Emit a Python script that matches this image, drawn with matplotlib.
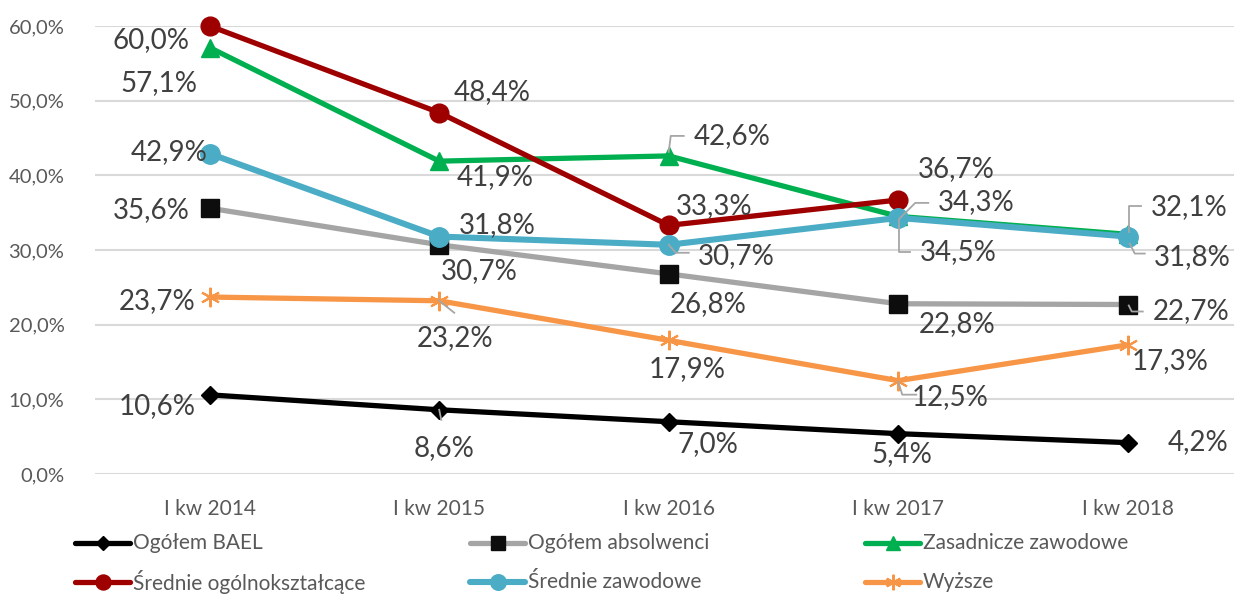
import numpy as np
import matplotlib.pyplot as plt
from matplotlib.lines import Line2D
from matplotlib.transforms import IdentityTransform

plt.rcParams['font.family'] = ['Lato', 'DejaVu Sans']

# --- data (percent) ---
categories = ["I kw 2014", "I kw 2015", "I kw 2016", "I kw 2017", "I kw 2018"]
bael = [10.6, 8.6, 7.0, 5.4, 4.2]
absolwenci = [35.6, 30.7, 26.8, 22.8, 22.7]
zasadnicze = [57.1, 41.9, 42.6, 34.5, 32.1]
srednie_ogol = [60.0, 48.4, 33.3, 36.7, np.nan]
srednie_zaw = [42.9, 31.8, 30.7, 34.3, 31.8]
wyzsze = [23.7, 23.2, 17.9, 12.5, 17.3]
yticks = [0, 10, 20, 30, 40, 50, 60]

W, H = 1234, 595
fig = plt.figure(figsize=(W / 100, H / 100), dpi=100)
ax = fig.add_axes([95 / W, 1 - 474 / H, (W - 95) / W, 448 / H])

x = np.arange(len(categories))
ax.set_xlim(-0.5, -0.5 + (W - 95) / 229.5)
ax.set_ylim(0, 60)
ax.set_yticks(yticks)
ax.set_yticklabels([f"{t:.1f}%".replace(".", ",") for t in yticks])
ax.set_xticks(x)
ax.set_xticklabels(categories)
ax.tick_params(axis="both", length=0, labelcolor="#595959")
ax.tick_params(axis="x", pad=18, labelsize=15)
ax.tick_params(axis="y", pad=22, labelsize=14.5)
for s in ax.spines.values():
    s.set_visible(False)
ax.grid(axis="y", color="#D9D9D9", lw=1.5)
ax.set_axisbelow(True)

# --- series styles ---
series = [
    ("Ogółem BAEL", bael, "#000000", dict(marker="D", ms=9, mfc="#000000", mec="#000000")),
    ("Ogółem absolwenci", absolwenci, "#A5A5A5", dict(marker="s", ms=13, mfc="#0D0D0D", mec="#0D0D0D")),
    ("Zasadnicze zawodowe", zasadnicze, "#00B050", dict(marker="^", ms=13, mfc="#00B050", mec="#00B050")),
    ("Średnie ogólnokształcące", srednie_ogol, "#9E0000", dict(marker="o", ms=13.5, mfc="#9E0000", mec="#9E0000")),
    ("Średnie zawodowe", srednie_zaw, "#4BACC6", dict(marker="o", ms=14, mfc="#4BACC6", mec="#4BACC6")),
    ("Wyższe", wyzsze, "#F79646", dict(marker=(6, 2, 0), ms=14, mfc="#F79646", mec="#F79646", mew=1.5)),
]
widths = [3.8, 3.8, 3.8, 3.8, 4.4, 3.8]

# label offsets in pixels (dx right, dy down) from each point
offsets = [
    [(-53, 11), (5, 38), (39, 22), (4, 20), (70, -1)],
    [(-58, 2), (40, 26), (39, 30), (59, 20), (63, 7)],
    [(-51, 35), (56, 16), (63, -20), (60, 36), (61, -27)],
    [(-59, 14), (53, -21), (45, -19), (58, -31), None],
    [(-41, -2), (58, -12), (68, 11), (78, -16), (65, 20)],
    [(-53, 4), (16, 37), (18, 29), (52, 16), (42, 16)],
]

# leader lines: (series index, point index, path in pixel offsets)
leaders = [
    (2, 2, [(0, -4), (2, -20), (15, -20)]),
    (4, 2, [(0, 0), (7, 8), (20, 8)]),
    (4, 3, [(1, 1), (17, -15), (30, -15)]),
    (2, 3, [(1, 4), (1, 36), (12, 36)]),
    (2, 4, [(1, -2), (1, -28), (13, -28)]),
    (4, 4, [(2, 7), (7, 17), (17, 17)]),
    (1, 4, [(1, 1), (4, 7), (15, 7)]),
    (5, 1, [(0, 0), (15, 12)]),
    (5, 3, [(0, 1), (4, 14), (18, 14)]),
    (0, 1, [(0, 0), (2, 10)]),
]

for (name, vals, color, mk), lw in zip(series, widths):
    ax.plot(x, vals, color=color, lw=lw, solid_joinstyle="round",
            solid_capstyle="round", clip_on=False, **mk)

for si, pi, path in leaders:
    px, py = ax.transData.transform((x[pi], series[si][1][pi]))
    xs = [px + dx for dx, dy in path]
    ys = [py - dy for dx, dy in path]
    fig.add_artist(Line2D(xs, ys, transform=IdentityTransform(),
                          color="#A6A6A6", lw=1.3, zorder=3))

for (name, vals, color, mk), offs in zip(series, offsets):
    for xi, v, o in zip(x, vals, offs):
        if o is None or np.isnan(v):
            continue
        ax.annotate(f"{v:.1f}%".replace(".", ","), (xi, v), xytext=(o[0], -o[1]),
                    textcoords="offset pixels", ha="center", va="center",
                    fontsize=20, color="#404040", zorder=5)

# --- legend drawn by hand (equal column widths like Excel) ---
for i, ((name, vals, color, mk), lw) in enumerate(zip(series, widths)):
    col, row = i % 3, i // 3
    x0 = 75 + col * 395
    y0 = H - (543 + row * 39)
    fig.add_artist(Line2D([x0 / W, (x0 + 55) / W], [y0 / H, y0 / H], color=color,
                          lw=lw, solid_capstyle="round"))
    fig.add_artist(Line2D([(x0 + 27.5) / W], [y0 / H], color=color, lw=0,
                          **{k: (v * 0.8 if k == "ms" else v) for k, v in mk.items()}))
    fig.text((x0 + 58) / W, y0 / H, name, ha="left", va="center",
             fontsize=15, color="#595959")

fig.savefig("out.png", dpi=100)
